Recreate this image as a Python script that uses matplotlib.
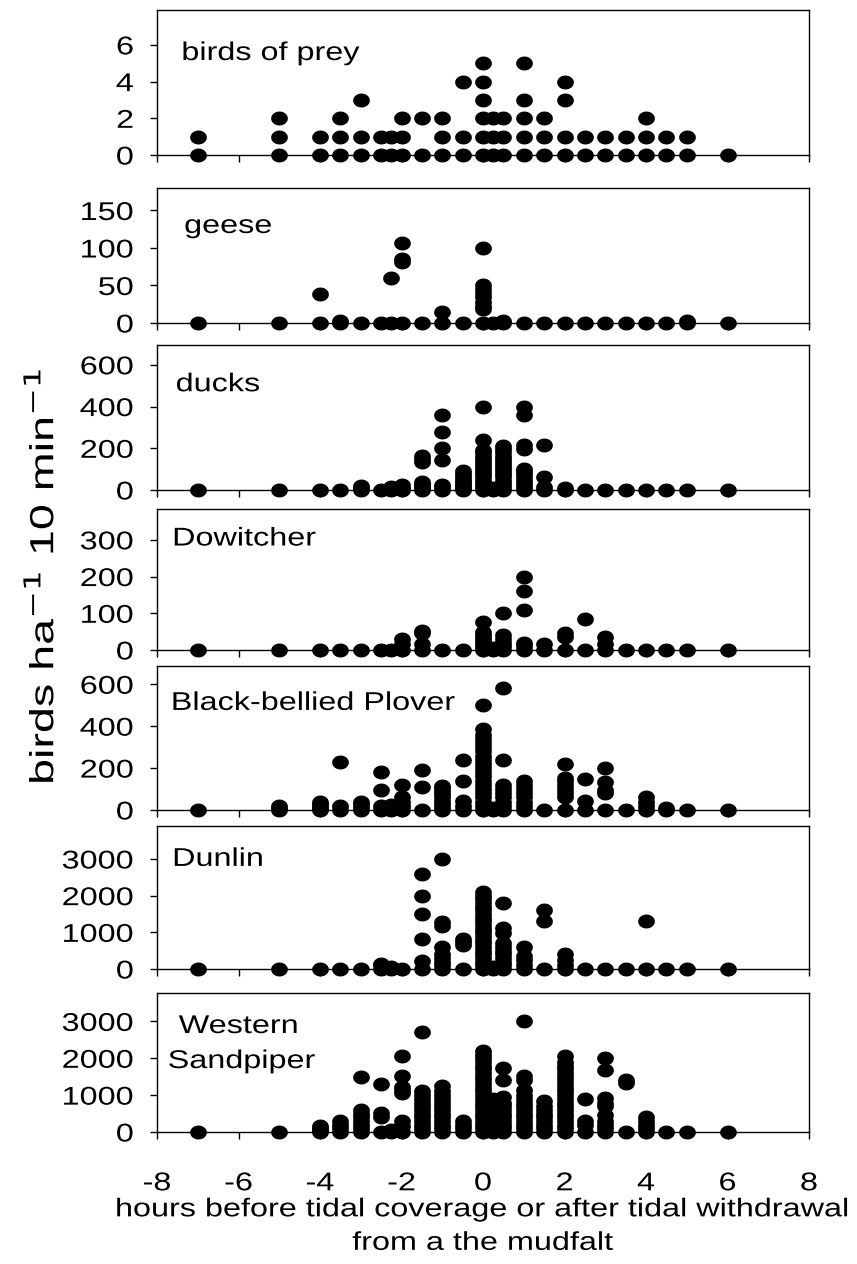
import numpy as np
import matplotlib
matplotlib.use("Agg")
import matplotlib.pyplot as plt
from matplotlib.path import Path
from matplotlib.markers import MarkerStyle
from matplotlib.patheffects import AbstractPathEffect
from matplotlib.transforms import Affine2D

plt.rcParams['font.family'] = ['Liberation Sans', 'DejaVu Sans']
plt.rcParams['axes.unicode_minus'] = False

# hours relative to tidal coverage / withdrawal -> observed densities
prey = {-7: [0, 1], -5: [0, 1, 2], -4: [0, 1], -3.5: [0, 1, 2], -3: [0, 1, 3],
        -2.5: [0, 1], -2.25: [0, 1], -2: [0, 1, 2], -1.5: [0, 2], -1: [0, 1, 2],
        -0.5: [0, 1, 4], 0: [0, 1, 2, 3, 4, 5], 0.25: [0, 1, 2], 0.5: [0, 1, 2],
        1: [0, 1, 2, 3, 5], 1.5: [0, 1, 2], 2: [0, 1, 3, 4], 2.5: [0, 1], 3: [0, 1],
        3.5: [0, 1], 4: [0, 1, 2], 4.5: [0, 1], 5: [0, 1], 6: [0]}

geese = {-7: [0], -5: [0], -4: [0, 38], -3.5: [0, 3], -3: [0], -2.5: [0],
         -2.25: [0, 60], -2: [0, 81, 85, 106], -1.5: [0], -1: [0, 15], -0.5: [0],
         0: [0, 18, 22, 28, 34, 40, 45, 50, 100], 0.25: [0], 0.5: [0, 2], 1: [0],
         1.5: [0], 2: [0], 2.5: [0], 3: [0], 3.5: [0], 4: [0], 4.5: [0], 5: [0, 2], 6: [0]}

ducks = {-7: [0], -5: [0], -4: [0], -3.5: [0], -3: [0, 10, 20], -2.5: [0],
         -2.25: [0, 15], -2: [0, 10, 25], -1.5: [0, 10, 20, 30, 40, 135, 150, 165],
         -1: [0, 15, 25, 145, 200, 280, 360],
         -0.5: [0, 10, 20, 30, 40, 50, 60, 75, 90],
         0: [0, 15, 30, 45, 60, 75, 90, 105, 120, 135, 150, 165, 180, 190, 240, 400],
         0.25: [0, 10],
         0.5: [0, 15, 30, 45, 60, 75, 90, 105, 120, 135, 150, 165, 180, 195, 210],
         1: [0, 15, 30, 45, 60, 75, 90, 100, 195, 215, 360, 400],
         1.5: [0, 15, 60, 215], 2: [0, 10], 2.5: [0], 3: [0], 3.5: [0], 4: [0],
         4.5: [0], 5: [0], 6: [0]}

dowitcher = {-7: [0], -5: [0], -4: [0], -3.5: [0], -3: [0], -2.5: [0], -2.25: [0],
             -2: [0, 15, 30], -1.5: [0, 15, 45, 52], -1: [0], -0.5: [0],
             0: [0, 8, 16, 24, 32, 40, 48, 75], 0.25: [0, 5],
             0.5: [0, 10, 20, 30, 40, 100], 1: [0, 10, 20, 110, 160, 200],
             1.5: [0, 15], 2: [0, 35, 45], 2.5: [0, 85], 3: [0, 15, 35],
             3.5: [0], 4: [0], 4.5: [0], 5: [0], 6: [0]}

plover = {-7: [0], -5: [0, 10, 20], -4: [0, 10, 20, 30, 40], -3.5: [0, 20, 230],
          -3: [0, 15, 30, 40], -2.5: [0, 20, 95, 180], -2.25: [0, 15, 25],
          -2: [0, 20, 40, 60, 120], -1.5: [0, 110, 190],
          -1: [0, 15, 30, 45, 60, 75, 90, 105, 115], -0.5: [0, 20, 45, 140, 240],
          0: [0, 20, 40, 60, 80, 100, 120, 140, 160, 180, 200, 220, 240, 260, 280,
              300, 320, 340, 360, 385, 500],
          0.25: [0, 10],
          0.5: [0, 20, 40, 60, 80, 100, 120, 240, 580],
          1: [0, 20, 40, 60, 80, 100, 120, 140], 1.5: [0],
          2: [0, 60, 80, 100, 120, 140, 155, 220], 2.5: [0, 45, 150],
          3: [0, 80, 95, 135, 200], 3.5: [0], 4: [0, 20, 40, 62], 4.5: [0, 10],
          5: [0], 6: [0]}

dunlin = {-7: [0], -5: [0], -4: [0], -3.5: [0], -3: [0], -2.5: [0, 100, 150],
          -2.25: [0, 50], -2: [0],
          -1.5: [0, 220, 810, 1490, 1990, 2600],
          -1: [0, 100, 200, 300, 420, 590, 1180, 1270, 3000],
          -0.5: [0, 650, 740, 810],
          0: [0, 100, 200, 300, 400, 500, 600, 700, 800, 900, 1000, 1100, 1200, 1300,
              1400, 1500, 1600, 1700, 1800, 1900, 2000, 2100],
          0.25: [0, 50],
          0.5: [0, 100, 200, 300, 400, 500, 600, 700, 990, 1130, 1800],
          1: [0, 120, 240, 360, 600], 1.5: [0, 1310, 1600], 2: [0, 120, 250, 420],
          2.5: [0], 3: [0], 3.5: [0], 4: [0, 1300], 4.5: [0], 5: [0], 6: [0]}

sandpiper = {-7: [0], -5: [0], -4: [0, 50, 100, 150], -3.5: [0, 100, 200, 300],
             -3: [0, 100, 200, 300, 400, 500, 600, 1490],
             -2.5: [0, 420, 510, 1310], -2.25: [0, 50],
             -2: [0, 150, 290, 1060, 1150, 1230, 1510, 2050],
             -1.5: [0, 100, 200, 300, 400, 500, 600, 700, 800, 900, 1000, 1100, 2710],
             -1: [0, 100, 200, 300, 400, 500, 600, 700, 800, 900, 1000, 1100, 1240],
             -0.5: [0, 100, 200, 300],
             0: [0, 100, 200, 300, 400, 500, 600, 700, 800, 900, 1000, 1100, 1200, 1300,
                 1400, 1500, 1600, 1700, 1800, 1900, 2000, 2100, 2200],
             0.25: [0, 100, 200, 300, 550, 650, 750, 900],
             0.5: [0, 100, 200, 300, 400, 500, 600, 700, 800, 950, 1420, 1730],
             1: [0, 100, 200, 300, 400, 500, 600, 700, 800, 900, 1000, 1150, 1420,
                 1510, 3000],
             1.5: [0, 100, 200, 300, 400, 500, 600, 700, 830],
             2: [0, 100, 200, 300, 400, 500, 600, 700, 800, 900, 1000, 1100, 1200,
                 1300, 1400, 1500, 1600, 1700, 1800, 1900, 2050],
             2.5: [0, 200, 300, 900],
             3: [0, 100, 200, 300, 470, 700, 800, 920, 1690, 2020],
             3.5: [0, 1330, 1420], 4: [0, 100, 200, 300, 420], 4.5: [0], 5: [0], 6: [0]}

species = ["birds of prey", "geese", "ducks", "Dowitcher", "Black-bellied Plover",
           "Dunlin", "Western\nSandpiper"]
datasets = [prey, geese, ducks, dowitcher, plover, dunlin, sandpiper]
ymax = [7.9, 180, 695, 384, 687, 3900, 3770]
yticks = [[0, 2, 4, 6], [0, 50, 100, 150], [0, 200, 400, 600], [0, 100, 200, 300],
          [0, 200, 400, 600], [0, 1000, 2000, 3000], [0, 1000, 2000, 3000]]
xticks = [-8, -6, -4, -2, 0, 2, 4, 6, 8]
xlabel = "hours before tidal coverage or after tidal withdrawal\nfrom a the mudfalt"
ylabel = r"birds ha$^{-1}$ 10 min$^{-1}$"


class Stretch(AbstractPathEffect):
    """Draw text wider than the font's native proportions (as in the source)."""

    def __init__(self, sx=1.0, sy=1.0, anchor='center'):
        super().__init__()
        self.sx, self.sy, self.anchor = sx, sy, anchor

    def draw_path(self, renderer, gc, tpath, affine, rgbFace=None):
        ext = tpath.get_extents(affine)
        if self.anchor == 'left':
            ox = ext.x0
        elif self.anchor == 'right':
            ox = ext.x1
        else:
            ox = 0.5 * (ext.x0 + ext.x1)
        oy = 0.5 * (ext.y0 + ext.y1)
        t = affine + Affine2D().translate(-ox, -oy).scale(self.sx, self.sy).translate(ox, oy)
        renderer.draw_path(gc, tpath, t, rgbFace)


SX = 1.26
FS = 18.5

# slightly wide dot, as in the source
th = np.linspace(0, 2 * np.pi, 64)
dot = MarkerStyle(Path(np.column_stack([np.cos(th), 0.82 * np.sin(th)]), closed=True))

# layout in pixels (top of box, zero line)
W, H = 857, 1264
panel_px = [(10, 155), (188, 323), (345, 490), (509, 650), (666, 810), (826, 969),
            (993, 1132)]
left_px, right_px = 157, 809
label_pos = [(0.038, 0.655), (0.042, 0.667), (0.029, 0.681), (0.024, 0.741),
             (0.022, 0.695), (0.024, 0.721), None]

fig = plt.figure(figsize=(W / 100, H / 100), dpi=100)

for i, (name, data) in enumerate(zip(species, datasets)):
    top, zero = panel_px[i]
    ax = fig.add_axes([left_px / W, 1 - zero / H, (right_px - left_px) / W,
                       (zero - top) / H])
    xs, ys = [], []
    for h, vals in data.items():
        for v in vals:
            xs.append(h)
            ys.append(v)
    ax.plot(xs, ys, linestyle='none', marker=dot, color='black', markersize=11.0,
            clip_on=False, zorder=3)
    ax.set_xlim(-8, 8)
    ax.set_ylim(0, ymax[i])
    ax.set_yticks(yticks[i])
    ax.set_xticks(xticks)
    ax.tick_params(axis='both', direction='out', length=4.8, width=1, labelsize=FS)
    ax.tick_params(axis='y', pad=12)
    ax.tick_params(axis='x', pad=23.5)
    for sp in ax.spines.values():
        sp.set_linewidth(1.0)
    for lbl in ax.get_yticklabels():
        lbl.set_path_effects([Stretch(SX, 1, 'right')])
    last = i == len(species) - 1
    if not last:
        ax.set_xticklabels([])
        lx, ly = label_pos[i]
        ax.text(lx, ly, name, transform=ax.transAxes, fontsize=FS, ha='left',
                va='baseline', path_effects=[Stretch(SX, 1, 'left')])
    else:
        for lbl in ax.get_xticklabels():
            lbl.set_path_effects([Stretch(SX, 1, 'center')])
        l1, l2 = name.split("\n")
        ax.text(0.125, 0.712, l1, transform=ax.transAxes, fontsize=FS, ha='center',
                va='baseline', path_effects=[Stretch(SX, 1, 'center')])
        ax.text(0.130, 0.460, l2, transform=ax.transAxes, fontsize=FS, ha='center',
                va='baseline', path_effects=[Stretch(SX, 1, 'center')])
        xl = ax.set_xlabel(xlabel, fontsize=FS, linespacing=1.5)
        xl.set_path_effects([Stretch(SX, 1, 'center')])
        ax.xaxis.set_label_coords(0.5, -0.47)

fig.text(43 / W, 1 - 576 / H, ylabel, rotation=90, fontsize=24,
         ha='center', va='center', path_effects=[Stretch(1, 1.4, 'center')])

fig.savefig("out.png", dpi=100)
